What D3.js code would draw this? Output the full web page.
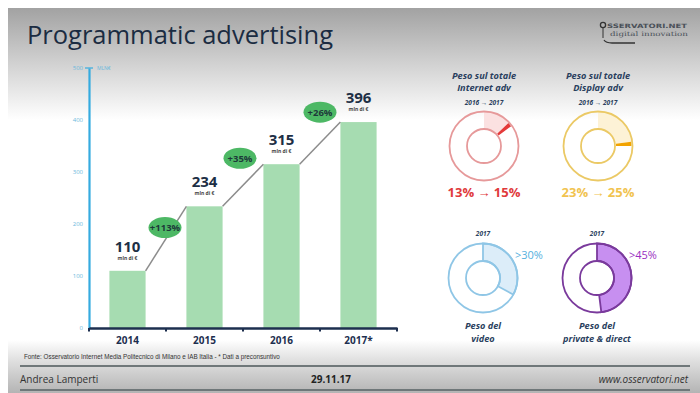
<!DOCTYPE html>
<html><head><meta charset="utf-8">
<script src="https://cdn.jsdelivr.net/npm/d3@7"></script>
<style>body{margin:0;background:#fff}svg{display:block}</style>
</head><body><svg id="c" width="700" height="393"></svg>
<script>
// ---- data ----
const years = ["2014", "2015", "2016", "2017*"];
const values = [110, 234, 315, 396];
const growthLabels = ["+113%", "+35%", "+26%"];
const yTicks = [0, 100, 200, 300, 400, 500];
const shareTitles = [["Peso sul totale", "Internet adv"], ["Peso sul totale", "Display adv"]];
const sharePeriod = ["2016 \u2192 2017", "2016 \u2192 2017"];
const shareFrom = [13, 23];
const shareTo = [15, 25];
const bottomYear = ["2017", "2017"];
const bottomShares = [33, 48];
const bottomLabels = [">30%", ">45%"];
const bottomTitles = [["Peso del", "video"], ["Peso del", "private & direct"]];

const svg = d3.select("#c");
const defs = svg.append("defs");
const hg = defs.append("linearGradient").attr("id", "hg").attr("x1", 0).attr("x2", 0).attr("y1", 0).attr("y2", 1);
hg.append("stop").attr("offset", 0).attr("stop-color", "#a2a2a2");
hg.append("stop").attr("offset", 0.45).attr("stop-color", "#cdcdcd");
hg.append("stop").attr("offset", 1).attr("stop-color", "#ffffff");
const fg = defs.append("linearGradient").attr("id", "fg").attr("x1", 0).attr("x2", 0).attr("y1", 0).attr("y2", 1);
fg.append("stop").attr("offset", 0).attr("stop-color", "#ffffff");
fg.append("stop").attr("offset", 0.35).attr("stop-color", "#e2e2e2");
fg.append("stop").attr("offset", 1).attr("stop-color", "#b4b4b4");

// background
svg.append("rect").attr("width", 700).attr("height", 393).attr("fill", "#fff");
svg.append("rect").attr("x", 8).attr("y", 8).attr("width", 692).attr("height", 112).attr("fill", "url(#hg)");
svg.append("rect").attr("x", 8).attr("y", 340).attr("width", 692).attr("height", 53).attr("fill", "url(#fg)");

// title
svg.append("text").attr("x", 27).attr("y", 44).text("Programmatic advertising")
  .attr("font-family", "Open Sans").attr("font-size", 25).attr("fill", "#1b2c42")
  .attr("textLength", 306).attr("lengthAdjust", "spacingAndGlyphs");

// logo
const logo = svg.append("g");
logo.append("circle").attr("cx", 603).attr("cy", 25).attr("r", 2.6).attr("fill", "none").attr("stroke", "#333").attr("stroke-width", 1.3);
logo.append("line").attr("x1", 603).attr("x2", 603).attr("y1", 27.5).attr("y2", 38).attr("stroke", "#333").attr("stroke-width", 1);
logo.append("text").attr("x", 607).attr("y", 28).text("SSERVATORI.NET").attr("font-family", "DejaVu Sans").attr("font-weight", "bold").attr("font-size", 6).attr("fill", "#4a5058").attr("textLength", 80).attr("lengthAdjust", "spacingAndGlyphs");
logo.append("text").attr("x", 610).attr("y", 36).text("digital innovation").attr("font-family", "DejaVu Serif").attr("font-size", 6.2).attr("fill", "#4a5058").attr("textLength", 78).attr("lengthAdjust", "spacingAndGlyphs");
logo.append("path").attr("d", "M604,40 Q606,43 612,43 L635,43").attr("fill", "none").attr("stroke", "#333").attr("stroke-width", 1.3);

// ---- bar chart ----
const x = d3.scaleBand().domain(years).range([89, 397]).paddingInner(0.53).paddingOuter(0.265);
const y = d3.scaleLinear().domain([0, 500]).range([328, 68]);

const navy = "#1d2f4f";
// bars
svg.append("g").selectAll("rect").data(values).join("rect")
  .attr("x", (d, i) => x(years[i])).attr("y", d => y(d))
  .attr("width", x.bandwidth()).attr("height", d => y(0) - y(d))
  .attr("fill", "#a6dcb1");

// connecting lines
svg.append("g").selectAll("line").data(values.slice(1)).join("line")
  .attr("x1", (d, i) => x(years[i]) + x.bandwidth()).attr("y1", (d, i) => y(values[i]))
  .attr("x2", (d, i) => x(years[i + 1])).attr("y2", d => y(d))
  .attr("stroke", "#8c8c8c").attr("stroke-width", 1.5);

// growth ellipses (offsets from segment midpoint, px)
const gOff = [[-1, -11], [-3, -27], [0, -31]];
const gg = svg.append("g").selectAll("g").data(growthLabels).join("g")
  .attr("transform", (d, i) => {
    const mx = (x(years[i]) + x.bandwidth() + x(years[i + 1])) / 2;
    const my = (y(values[i]) + y(values[i + 1])) / 2;
    return `translate(${mx + gOff[i][0]},${my + gOff[i][1]})`;
  });
gg.append("ellipse").attr("rx", 16.5).attr("ry", 10.5).attr("fill", "#4db865");
gg.append("text").attr("y", 3.4).attr("text-anchor", "middle").text(d => d)
  .attr("font-family", "Open Sans").attr("font-weight", "bold").attr("font-size", 9.5).attr("fill", "#1d3a3a");

// value labels
const vl = svg.append("g").selectAll("g").data(values).join("g")
  .attr("transform", (d, i) => `translate(${x(years[i]) + x.bandwidth() / 2},${y(d)})`);
vl.append("text").attr("y", -19).attr("text-anchor", "middle").text(d => d)
  .attr("font-family", "Open Sans").attr("font-weight", "bold").attr("font-size", 15).attr("fill", "#1d2f45");
vl.append("text").attr("y", -11).attr("text-anchor", "middle").text("mln di \u20ac")
  .attr("font-family", "Open Sans").attr("font-weight", "bold").attr("font-size", 5).attr("fill", "#444");

// y axis
const yAxis = svg.append("g").attr("transform", "translate(89,0)")
  .call(d3.axisLeft(y).tickValues(yTicks).tickSize(0).tickPadding(6));
yAxis.select(".domain").attr("stroke", "#35abe0").attr("stroke-width", 2.2);
yAxis.selectAll("text").attr("font-family", "Open Sans").attr("font-size", 6).attr("fill", "#6cb8dc");
svg.append("line").attr("x1", 85).attr("x2", 93).attr("y1", 68).attr("y2", 68).attr("stroke", "#35abe0").attr("stroke-width", 1.2);
svg.append("text").attr("x", 97).attr("y", 70).text("MLN\u20ac").attr("font-family", "Open Sans").attr("font-size", 5).attr("fill", "#6cb8dc");

// x axis
const xAxis = svg.append("g").attr("transform", "translate(0,328)")
  .call(d3.axisBottom(x).tickSize(0).tickPadding(9));
xAxis.select(".domain").attr("stroke", navy).attr("stroke-width", 2.5);
xAxis.selectAll("text").attr("font-family", "Open Sans").attr("font-weight", "bold").attr("font-size", 10).attr("fill", navy);
const step = x.step();
svg.append("g").selectAll("line").data(d3.range(years.length + 1)).join("line")
  .attr("x1", i => 89 + i * step).attr("x2", i => 89 + i * step)
  .attr("y1", 328).attr("y2", 331.5).attr("stroke", navy).attr("stroke-width", 2);

// ---- donuts ----
const titleFont = (s) => s.attr("font-family", "Open Sans").attr("font-style", "italic").attr("font-weight", "bold");
const R = 34.5, r0 = 17;
const arc = d3.arc();
const topCx = [484, 598], topCy = 146;
const topCol = [
  { ring: "#e6999a", pale: "#fbe1e1", mark: "#e43a3a", txt: "#e03a3c" },
  { ring: "#ebc965", pale: "#fdf2d6", mark: "#f2a300", txt: "#f1c350" }
];
topCx.forEach((cx, i) => {
  const g = svg.append("g").attr("transform", `translate(${cx},${topCy})`);
  g.append("path").attr("d", arc({ innerRadius: r0, outerRadius: R, startAngle: 0, endAngle: 2 * Math.PI * shareFrom[i] / 100 })).attr("fill", topCol[i].pale);
  g.append("path").attr("d", arc({ innerRadius: r0 + 1, outerRadius: R - 1, startAngle: 2 * Math.PI * shareFrom[i] / 100, endAngle: 2 * Math.PI * shareTo[i] / 100 })).attr("fill", topCol[i].mark);
  g.append("circle").attr("r", R).attr("fill", "none").attr("stroke", topCol[i].ring).attr("stroke-width", 1.8);
  g.append("circle").attr("r", r0).attr("fill", "none").attr("stroke", topCol[i].ring).attr("stroke-width", 1.8);
  titleFont(svg.append("text").attr("x", cx).attr("y", 78.5).attr("text-anchor", "middle").text(shareTitles[i][0]).attr("font-size", 9.2).attr("fill", "#2a3f5e"));
  titleFont(svg.append("text").attr("x", cx).attr("y", 91.2).attr("text-anchor", "middle").text(shareTitles[i][1]).attr("font-size", 9.2).attr("fill", "#2a3f5e"));
  titleFont(svg.append("text").attr("x", cx).attr("y", 105).attr("text-anchor", "middle").text(sharePeriod[i]).attr("font-size", 6.5).attr("fill", "#2a3f5e"));
  svg.append("text").attr("x", cx).attr("y", 197).attr("text-anchor", "middle")
    .text(`${shareFrom[i]}% \u2192 ${shareTo[i]}%`).attr("font-family", "Open Sans").attr("font-weight", "bold").attr("font-size", 13).attr("fill", topCol[i].txt);
});

const botCx = [483, 597], botCy = 278;
const botCol = [
  { ring: "#8fc6e6", fill: "#dcedf9", txt: "#55b0de" },
  { ring: "#7a3a9c", fill: "#c78ff0", txt: "#9a2fc2" }
];
botCx.forEach((cx, i) => {
  const g = svg.append("g").attr("transform", `translate(${cx},${botCy})`);
  g.append("path").attr("d", arc({ innerRadius: r0, outerRadius: R, startAngle: 0, endAngle: 2 * Math.PI * bottomShares[i] / 100 }))
    .attr("fill", botCol[i].fill).attr("stroke", botCol[i].ring).attr("stroke-width", 1.8);
  g.append("circle").attr("r", R).attr("fill", "none").attr("stroke", botCol[i].ring).attr("stroke-width", 1.8);
  g.append("circle").attr("r", r0).attr("fill", "none").attr("stroke", botCol[i].ring).attr("stroke-width", 1.8);
  titleFont(svg.append("text").attr("x", cx).attr("y", 236).attr("text-anchor", "middle").text(bottomYear[i]).attr("font-size", 6.5).attr("fill", "#2a3f5e"));
  svg.append("text").attr("x", cx + 32).attr("y", 259).text(bottomLabels[i])
    .attr("font-family", "Open Sans").attr("font-size", 11).attr("fill", botCol[i].txt);
  titleFont(svg.append("text").attr("x", cx).attr("y", 329).attr("text-anchor", "middle").text(bottomTitles[i][0]).attr("font-size", 9.2).attr("fill", "#2a3f5e"));
  titleFont(svg.append("text").attr("x", cx).attr("y", 341.7).attr("text-anchor", "middle").text(bottomTitles[i][1]).attr("font-size", 9.2).attr("fill", "#2a3f5e"));
});

// ---- footer ----
svg.append("text").attr("x", 24).attr("y", 359).text("Fonte: Osservatorio Internet Media Politecnico di Milano e IAB Italia - * Dati a preconsuntivo")
  .attr("font-family", "Liberation Sans").attr("font-size", 6.3).attr("fill", "#333");
svg.append("line").attr("x1", 20).attr("x2", 690).attr("y1", 366).attr("y2", 366).attr("stroke", "#6f7779").attr("stroke-width", 2.2);
svg.append("line").attr("x1", 20).attr("x2", 690).attr("y1", 390).attr("y2", 390).attr("stroke", "#6f7779").attr("stroke-width", 2);
svg.append("text").attr("x", 20).attr("y", 383).text("Andrea Lamperti").attr("font-family", "Open Sans").attr("font-size", 10).attr("fill", "#333");
svg.append("text").attr("x", 331).attr("y", 383).attr("text-anchor", "middle").text("29.11.17").attr("font-family", "Open Sans").attr("font-weight", "bold").attr("font-size", 10).attr("fill", "#222");
svg.append("text").attr("x", 688).attr("y", 383).attr("text-anchor", "end").text("www.osservatori.net").attr("font-family", "Open Sans").attr("font-style", "italic").attr("font-size", 10).attr("fill", "#333");
</script></body></html>
